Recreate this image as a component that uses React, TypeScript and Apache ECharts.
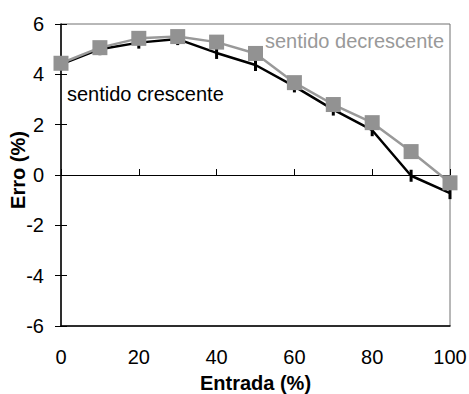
import React, { useEffect, useRef } from "react";
import * as echarts from "echarts";

const entrada = [0, 10, 20, 30, 40, 50, 60, 70, 80, 90, 100];
const crescente = [4.4, 5.0, 5.26, 5.4, 4.85, 4.37, 3.52, 2.6, 1.78, -0.03, -0.72];
const decrescente = [4.44, 5.06, 5.43, 5.5, 5.28, 4.83, 3.67, 2.8, 2.08, 0.93, -0.31];
const yMin = -6;
const yMax = 6;
const yStep = 2;
const xMin = 0;
const xMax = 100;
const xStep = 20;

const FONT = "'Liberation Sans', Arial, sans-serif";

export default function App() {
  const ref = useRef<HTMLDivElement>(null);
  useEffect(() => {
    if (!ref.current) return;
    const chart = echarts.init(ref.current, null, { renderer: "svg" });
    const pair = (ys: number[]) => entrada.map((x, i) => [x, ys[i]]);
    chart.setOption({
      animation: false,
      backgroundColor: "#ffffff",
      grid: {
        left: 61,
        right: 19,
        top: 24,
        bottom: 68,
        containLabel: false,
        outerBoundsMode: "none",
        show: true,
        borderColor: "#707070",
        borderWidth: 1,
        backgroundColor: "transparent",
      },
      xAxis: [
        {
          type: "value",
          min: xMin,
          max: xMax,
          interval: xStep,
          position: "bottom",
          name: "Entrada (%)",
          nameLocation: "middle",
          nameGap: 47,
          nameMoveOverlap: false,
          nameTextStyle: { fontFamily: FONT, fontSize: 20, fontWeight: "bold", color: "#000" },
          axisLine: { onZero: false, show: true, lineStyle: { color: "#000", width: 1.5 } },
          axisTick: { show: false },
          axisLabel: { fontFamily: FONT, fontSize: 20, color: "#000", margin: 21 },
          splitLine: { show: false },
        },
        {
          type: "value",
          min: xMin,
          max: xMax,
          interval: xStep,
          position: "bottom",
          axisLine: { onZero: true, show: true, lineStyle: { color: "#000", width: 1 } },
          axisTick: { show: true, inside: true, length: 6, lineStyle: { color: "#000", width: 1 } },
          axisLabel: { show: false },
          splitLine: { show: false },
        },
      ],
      yAxis: [
        {
          type: "value",
          min: yMin,
          max: yMax,
          interval: yStep,
          position: "left",
          name: "Erro (%)",
          nameLocation: "middle",
          nameGap: 33,
          nameMoveOverlap: false,
          nameTextStyle: {
            fontFamily: FONT,
            fontSize: 20,
            fontWeight: "bold",
            color: "#000",
            padding: [0, 0, 0, 10],
          },
          axisLine: { show: true, lineStyle: { color: "#000", width: 1.5 } },
          axisTick: { show: true, length: 6, lineStyle: { color: "#000", width: 1 } },
          axisLabel: { fontFamily: FONT, fontSize: 20, color: "#000", margin: 17 },
          splitLine: { show: false },
        },
        {
          type: "value",
          min: yMin,
          max: yMax,
          interval: yStep,
          position: "left",
          axisLine: { show: false },
          axisTick: { show: true, inside: true, length: 6, lineStyle: { color: "#000", width: 1 } },
          axisLabel: { show: false },
          splitLine: { show: false },
        },
      ],
      series: [
        {
          name: "sentido crescente",
          type: "line",
          xAxisIndex: 0,
          yAxisIndex: 0,
          data: pair(crescente),
          lineStyle: { color: "#000", width: 2.5 },
          itemStyle: { color: "#000" },
          symbol: "rect",
          symbolSize: [3, 12],
          z: 3,
        },
        {
          name: "sentido decrescente",
          type: "line",
          xAxisIndex: 0,
          yAxisIndex: 0,
          data: pair(decrescente),
          lineStyle: { color: "#999999", width: 2.5 },
          itemStyle: { color: "#929292" },
          symbol: "rect",
          symbolSize: 15,
          z: 4,
        },
      ],
      graphic: [
        {
          type: "text",
          left: 67,
          top: 84,
          style: { text: "sentido crescente", fontFamily: FONT, fontSize: 20, fill: "#000" },
        },
        {
          type: "text",
          left: 265,
          top: 31,
          style: { text: "sentido decrescente", fontFamily: FONT, fontSize: 20, fill: "#999999" },
        },
      ],
    });
    return () => chart.dispose();
  }, []);
  return <div ref={ref} style={{ width: 469, height: 394, position: "absolute", left: 0, top: 0 }} />;
}
